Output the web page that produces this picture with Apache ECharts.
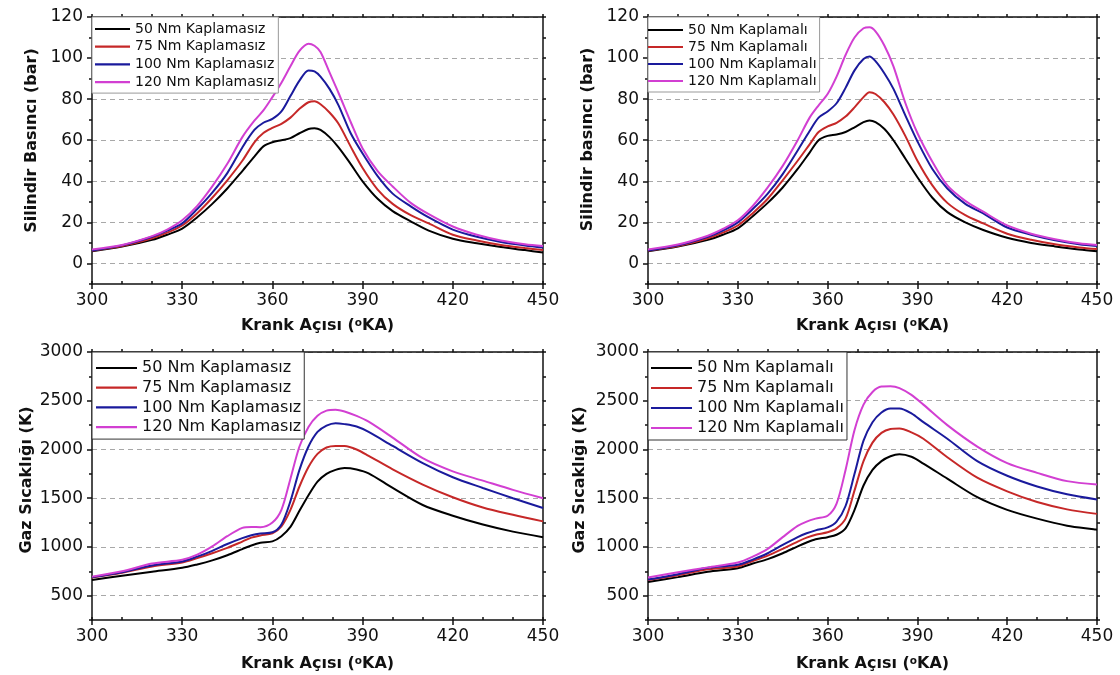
<!DOCTYPE html>
<html><head><meta charset="utf-8">
<script src="https://cdn.jsdelivr.net/npm/echarts/dist/echarts.min.js"></script>
<style>html,body{margin:0;padding:0;background:#fff}#c{width:1120px;height:675px}</style>
</head><body><div id="c"></div>
<script>
// ---- data ----
const torques = ['50', '75', '100', '120'];
const namesU = torques.map(t => t + ' Nm Kaplamasız');
const namesC = torques.map(t => t + ' Nm Kaplamalı');

const xTicks = [300, 330, 360, 390, 420, 450];
const pTicks = [0, 20, 40, 60, 80, 100, 120];
const pMinor = [-10, 10, 30, 50, 70, 90, 110];
const tTicks = [500, 1000, 1500, 2000, 2500, 3000];
const tMinor = [250, 750, 1250, 1750, 2250, 2750];

// crank angle samples (°KA)
const angleP = [300,310,320,325,330,335,340,345,350,354,357,360,363,366,369,372,374,376,379,382,386,390,395,400,406,412,420,428,436,444,450];
const angleT = [300,310,320,330,335,340,345,350,353,356,360,363,366,369,372,375,378,381,384,388,392,400,410,420,430,440,450];

// cylinder pressure (bar), uncoated
const pU50  = [6,8.2,11.5,14,17,22.5,29,36.5,45,52,57,59,60,61,63.4,65.5,65.8,65,61.5,56.5,48.5,40,31.5,25.5,20.5,16,12,9.8,8,6.5,5.3];
const pU75  = [6.2,8.5,12.3,15,18.5,24.5,32,40.5,50,59,63.5,66,68,71,75.3,78.5,79,77.5,73.5,68,57,46.5,36,29,23.5,19.5,14,11.2,9,7.5,6.5];
const pU100 = [6.3,8.8,13,16,19.5,26.5,34.5,44,56.5,65,68.5,70.4,74,81.5,89,94,93.5,91,85,77,63.5,53.5,42.5,34,27.8,22.4,16.5,13,10.5,8.8,7.8];
const pU120 = [6.8,9,13.3,16.5,21,28,37.5,48.5,61.5,69.5,74.5,81,88,96,103.5,107,106,103,93,83,69,56,45,37.5,29.5,24,18,14,11.2,9.4,8.5];
// cylinder pressure (bar), coated
const pC50  = [6,8.2,11.5,14,17.1,23,29.5,37,46,54,60,62.1,62.8,64,66.3,68.8,69.6,68.8,65.5,60,51,42,32,25,20,16.3,12.5,10,8.3,6.8,6];
const pC75  = [6.2,8.5,12.3,15,18.5,24.5,31.5,40.5,50,58,64,66.7,68.5,71.5,76,81,83.4,82.5,78.5,72.5,62,50,38,29.5,23.5,19.5,14.5,11.5,9.3,7.8,7];
const pC100 = [6.3,8.8,13,16,20,26.5,34,43.5,55,64.5,71,74,78,85.5,94,99.5,100.8,98.5,92.5,85,72,59.5,46,36.5,29,24.4,17.5,14,11.3,9.4,8.5];
const pC120 = [6.8,9.2,13.5,16.8,21,28,37,47.5,60,71,77,82.5,91,101.5,110,114.5,115,113,106,96,78,63.5,49.5,38,30.5,25.2,18.5,14.5,11.8,9.8,9];

// gas temperature (K), uncoated
const tU50  = [660,705,745,785,820,862,915,978,1015,1042,1057,1110,1205,1370,1530,1670,1750,1790,1810,1795,1755,1605,1430,1320,1230,1157,1100];
const tU75  = [685,735,800,840,885,935,990,1055,1095,1118,1140,1210,1380,1620,1820,1955,2020,2036,2035,2000,1935,1796,1640,1510,1405,1330,1262];
const tU100 = [690,740,810,851,900,960,1030,1090,1120,1138,1150,1230,1470,1790,2030,2180,2245,2270,2260,2235,2180,2036,1860,1715,1605,1500,1400];
const tU120 = [695,750,830,868,920,1005,1110,1195,1205,1202,1250,1380,1700,2030,2230,2345,2398,2408,2390,2345,2285,2122,1910,1775,1680,1585,1500];
// gas temperature (K), coated
const tC50  = [640,690,745,782,830,875,935,1006,1045,1078,1100,1125,1190,1380,1630,1790,1880,1930,1950,1925,1855,1700,1510,1380,1290,1218,1177];
const tC75  = [660,710,770,799,855,910,980,1055,1095,1125,1150,1190,1290,1580,1880,2070,2170,2210,2215,2175,2110,1920,1710,1570,1460,1385,1339];
const tC100 = [665,720,785,817,870,935,1020,1100,1140,1170,1200,1260,1420,1750,2090,2280,2380,2421,2421,2370,2280,2110,1880,1730,1620,1540,1487];
const tC120 = [685,740,790,840,900,980,1100,1215,1260,1290,1320,1445,1790,2200,2460,2590,2645,2648,2630,2560,2460,2250,2030,1860,1760,1675,1641];

const colors = ['#000000', '#c62828', '#1a1a9c', '#d23fd2'];
const FONT = 'DejaVu Sans';
const INK = '#111';

const panels = [
  {grid:{left:92,top:17,width:451,height:267}, x:angleP, ys:[pU50,pU75,pU100,pU120], names:namesU,
   yMin:-10, yMax:120, yTicks:pTicks, yMinor:pMinor, yName:'Silindir Basıncı (bar)', yGap:52, yPad:20, xGap:34,
   lg:{left:92, top:17, itemWidth:35, fontSize:14, lineHeight:16, itemGap:1.7, padding:[4,4,3,3], border:'#999'}},
  {grid:{left:648,top:17,width:449,height:267}, x:angleP, ys:[pC50,pC75,pC100,pC120], names:namesC,
   yMin:-10, yMax:120, yTicks:pTicks, yMinor:pMinor, yName:'Silindir basıncı (bar)', yGap:52, yPad:22, xGap:34,
   lg:{left:648, top:17, itemWidth:35, fontSize:14, lineHeight:16, itemGap:1, padding:[5,3,3,0], border:'#999'}},
  {grid:{left:92,top:352,width:451,height:268}, x:angleT, ys:[tU50,tU75,tU100,tU120], names:namesU,
   yMin:250, yMax:3000, yTicks:tTicks, yMinor:tMinor, yName:'Gaz Sıcaklığı (K)', yGap:57, yPad:12, xGap:36,
   lg:{left:92, top:352, itemWidth:41, fontSize:16, lineHeight:18, itemGap:1.7, padding:[7,3,3,4], border:'#333'}},
  {grid:{left:648,top:352,width:449,height:268}, x:angleT, ys:[tC50,tC75,tC100,tC120], names:namesC,
   yMin:250, yMax:3000, yTicks:tTicks, yMinor:tMinor, yName:'Gaz Sıcaklığı (K)', yGap:60, yPad:12, xGap:36,
   lg:{left:648, top:352, itemWidth:41, fontSize:16, lineHeight:18, itemGap:2, padding:[7,3,3,3], border:'#333'}}
];

const frame = {color: INK, width: 1.5};
const plain = v => String(v);
const grids = [], xAxes = [], yAxes = [], series = [], legends = [];

panels.forEach((p, i) => {
  grids.push(Object.assign({outerBoundsMode:'none', containLabel:false}, p.grid));
  const xb = xAxes.length, yb = yAxes.length;
  xAxes.push({
    type:'value', gridIndex:i, position:'bottom', min:300, max:450,
    axisLine:{show:true, onZero:false, lineStyle:frame},
    axisTick:{show:true, customValues:xTicks, length:5, inside:false, lineStyle:frame},
    axisLabel:{show:true, customValues:xTicks, formatter:plain, margin:8, fontSize:17, fontFamily:FONT, color:INK},
    splitLine:{show:false},
    name:'{a|Krank Açısı (}{s|o}{a|KA)}', nameLocation:'middle', nameGap:p.xGap, nameMoveOverlap:false,
    nameTextStyle:{fontFamily:FONT, fontWeight:'bold', fontSize:16, color:INK,
      rich:{a:{fontFamily:FONT, fontWeight:'bold', fontSize:16, color:INK},
            s:{fontFamily:FONT, fontWeight:'bold', fontSize:10.5, color:INK, verticalAlign:'top'}}}
  });
  xAxes.push({
    type:'value', gridIndex:i, position:'bottom', min:300, max:450, interval:10,
    axisLine:{show:false, onZero:false}, axisTick:{show:true, inside:true, length:3, lineStyle:frame},
    axisLabel:{show:false}, splitLine:{show:false}
  });
  xAxes.push({
    type:'value', gridIndex:i, position:'top', min:300, max:450, interval:10,
    axisLine:{show:true, onZero:false, lineStyle:frame}, axisTick:{show:true, inside:false, length:3, lineStyle:frame},
    axisLabel:{show:false}, splitLine:{show:false}
  });
  yAxes.push({
    type:'value', gridIndex:i, position:'left', min:p.yMin, max:p.yMax,
    axisLine:{show:true, onZero:false, lineStyle:frame},
    axisTick:{show:true, customValues:p.yTicks, length:5, inside:false, lineStyle:frame},
    axisLabel:{show:true, customValues:p.yTicks, formatter:plain, margin:9, fontSize:17, fontFamily:FONT, color:INK},
    splitLine:{show:true, lineStyle:{color:'#a8a8a8', width:1, type:[5,4]}},
    name:p.yName, nameLocation:'middle', nameGap:p.yGap, nameRotate:90, nameMoveOverlap:false,
    nameTextStyle:{fontFamily:FONT, fontWeight:'bold', fontSize:16, color:INK, padding:[0,0,0,p.yPad]}
  });
  yAxes.push({
    type:'value', gridIndex:i, position:'left', min:p.yMin, max:p.yMax,
    axisLine:{show:false, onZero:false},
    axisTick:{show:true, customValues:p.yMinor, length:3, inside:false, lineStyle:frame},
    axisLabel:{show:false}, splitLine:{show:false}
  });
  yAxes.push({
    type:'value', gridIndex:i, position:'right', min:p.yMin, max:p.yMax,
    axisLine:{show:true, onZero:false, lineStyle:frame},
    axisTick:{show:true, customValues:p.yTicks.concat(p.yMinor), length:3, inside:false, lineStyle:frame},
    axisLabel:{show:false}, splitLine:{show:false}
  });
  p.ys.forEach((vals, j) => {
    series.push({
      type:'line', name:p.names[j], xAxisIndex:xb, yAxisIndex:yb,
      data:p.x.map((a, k) => [a, vals[k]]),
      showSymbol:false, symbol:'none', smooth:0.3,
      lineStyle:{width:2, color:colors[j]}, itemStyle:{color:colors[j]},
      z:3
    });
  });
  legends.push({
    orient:'vertical', left:p.lg.left, top:p.lg.top, data:p.names, selectedMode:false,
    icon:'rect', itemWidth:p.lg.itemWidth, itemHeight:2.2, itemGap:p.lg.itemGap,
    padding:p.lg.padding, backgroundColor:'#fff', borderColor:p.lg.border, borderWidth:1, borderRadius:0,
    textStyle:{fontFamily:FONT, fontSize:p.lg.fontSize, lineHeight:p.lg.lineHeight, color:INK},
    z:5
  });
});

const chart = echarts.init(document.getElementById('c'), null, {renderer:'canvas'});
chart.setOption({
  animation:false,
  backgroundColor:'#ffffff',
  grid:grids, xAxis:xAxes, yAxis:yAxes, series:series, legend:legends
});
</script></body></html>
